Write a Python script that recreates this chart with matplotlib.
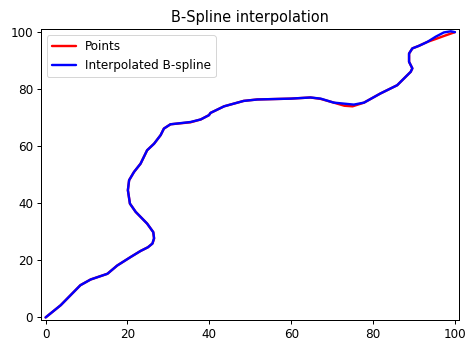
import matplotlib
matplotlib.use('Agg')
import matplotlib.pyplot as plt

# 원본 점들 (빨간 선)
points_x = [0, 3.7, 8.5, 11, 15.1, 17.5, 20.8, 23.2, 25.0, 26.1, 26.5, 26.3, 24.8, 22, 20.6, 20.1,
            20.4, 21.6, 23.2, 24.8, 26.5, 28.1, 28.9, 30.5, 35.4, 37.9, 39.9, 40.3, 43.6, 48.4,
            51.7, 59.9, 64.7, 67.2, 70.4, 73.0, 75.0, 77.8, 81.8, 85.9, 89.2, 89.6, 88.8, 88.8,
            89.6, 91.2, 93.3, 95.5, 97.6, 100]
points_y = [0, 4.3, 11.3, 13.3, 15.3, 18.2, 21.2, 23.3, 24.6, 25.9, 27.6, 29.9, 32.9, 37, 39.9, 44.6,
            48.1, 51, 53.9, 58.6, 60.9, 63.9, 66.2, 67.7, 68.4, 69.4, 70.9, 71.7, 74, 75.9,
            76.4, 76.7, 77.1, 76.6, 75.3, 74.2, 74.0, 75.3, 78.5, 81.4, 86.1, 87.3, 89.6, 92.5,
            94.3, 95.2, 96.6, 97.7, 98.8, 100]

# 보간된 B-spline (파란 선)
spline_x = [0, 3.7, 8.5, 11, 15.1, 17.5, 20.8, 23.2, 25.0, 26.1, 26.5, 26.3, 24.8, 22, 20.6, 20.1,
            20.4, 21.6, 23.2, 24.8, 26.5, 28.1, 28.9, 30.5, 35.4, 37.9, 39.9, 40.3, 43.6, 48.4,
            51.7, 59.9, 64.7, 67.2, 70.4, 75.3, 77.8, 81.8, 85.9, 89.2, 89.6, 88.8, 88.8, 89.6,
            91.2, 93.3, 95.3, 97.3, 99.0, 100]
spline_y = [0, 4.3, 11.3, 13.3, 15.3, 18.2, 21.2, 23.3, 24.6, 25.9, 27.8, 29.9, 32.9, 37, 39.9, 44.6,
            48.1, 51, 53.9, 58.6, 60.9, 63.9, 66.2, 67.7, 68.5, 69.4, 70.9, 71.7, 74, 75.9,
            76.4, 76.7, 77.1, 76.7, 75.3, 74.6, 75.3, 78.5, 81.4, 86.1, 87.3, 89.6, 92.5, 94.3,
            95.2, 96.6, 98.4, 99.9, 100.3, 100]

fig = plt.figure(figsize=(474 / 72, 351 / 72), dpi=72)
ax = fig.add_axes([40.7 / 474, 1 - 320 / 351, (459 - 40.7) / 474, (320 - 29.3) / 351])

ax.plot(points_x, points_y, color='red', linewidth=2.4, label='Points',
        solid_joinstyle='round', solid_capstyle='round')
ax.plot(spline_x, spline_y, color='blue', linewidth=2.4, label='Interpolated B-spline',
        solid_joinstyle='round', solid_capstyle='round')

ax.set_xlim(-1.2, 101)
ax.set_ylim(-0.9, 101)
ax.set_xticks([0, 20, 40, 60, 80, 100])
ax.set_yticks([0, 20, 40, 60, 80, 100])
ax.tick_params(labelsize=12, length=4.2, width=1.0)
for s in ax.spines.values():
    s.set_linewidth(1.0)
ax.set_title('B-Spline interpolation', fontsize=14.5, pad=7)
ax.legend(loc='upper left', fontsize=12)

fig.savefig('out.png', dpi=72)
